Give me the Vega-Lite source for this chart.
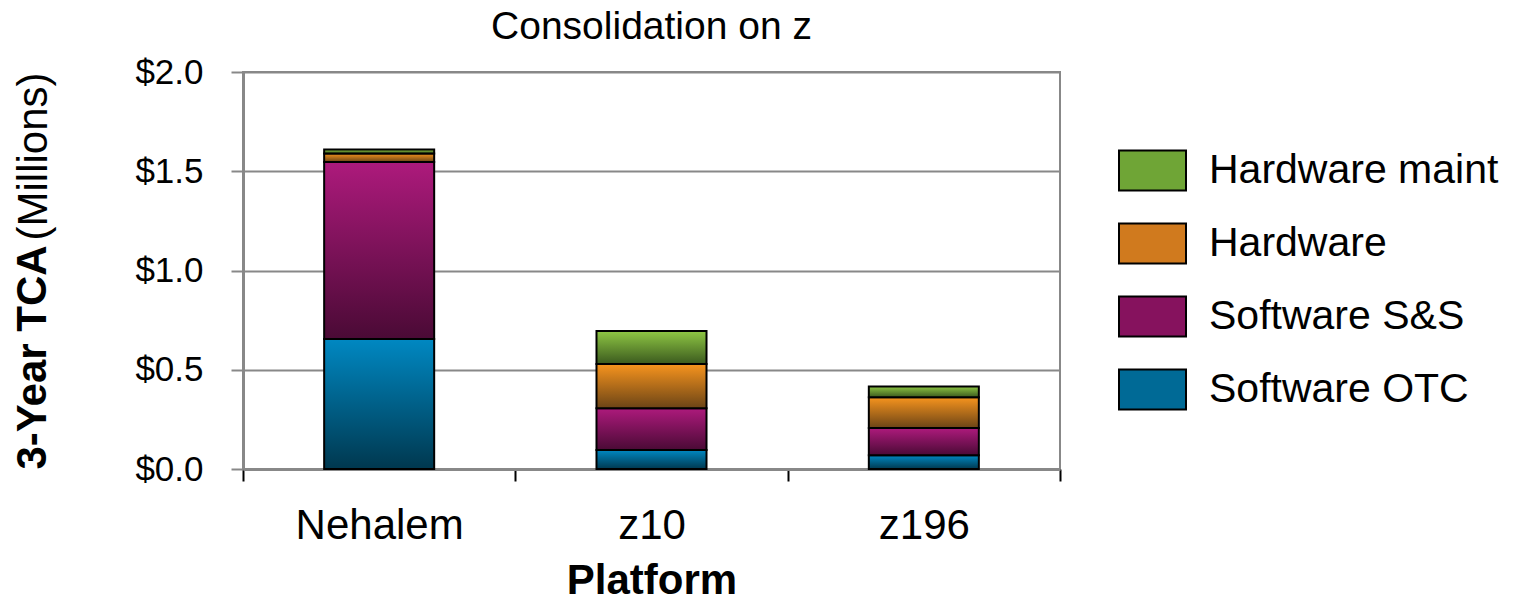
{
  "$schema": "https://vega.github.io/schema/vega-lite/v6.json",
  "autosize": {"type": "none"},
  "width": 817,
  "height": 397,
  "padding": {"left": 243, "top": 72, "right": 466, "bottom": 130},
  "config": {
    "font": "Liberation Sans",
    "view": {"stroke": "#888888", "strokeWidth": 2},
    "title": {"fontSize": 39, "fontWeight": "normal", "color": "#000000", "font": "Liberation Sans"}
  },
  "title": {"text": "Consolidation on z", "anchor": "middle", "offset": 8},
  "data": {
    "values": [
      {"platform": "Nehalem", "category": "Software OTC", "rank": 1, "value": 0.655},
      {"platform": "Nehalem", "category": "Software S&S", "rank": 2, "value": 0.892},
      {"platform": "Nehalem", "category": "Hardware", "rank": 3, "value": 0.043},
      {"platform": "Nehalem", "category": "Hardware maint", "rank": 4, "value": 0.020},
      {"platform": "z10", "category": "Software OTC", "rank": 1, "value": 0.096},
      {"platform": "z10", "category": "Software S&S", "rank": 2, "value": 0.210},
      {"platform": "z10", "category": "Hardware", "rank": 3, "value": 0.223},
      {"platform": "z10", "category": "Hardware maint", "rank": 4, "value": 0.166},
      {"platform": "z196", "category": "Software OTC", "rank": 1, "value": 0.069},
      {"platform": "z196", "category": "Software S&S", "rank": 2, "value": 0.137},
      {"platform": "z196", "category": "Hardware", "rank": 3, "value": 0.156},
      {"platform": "z196", "category": "Hardware maint", "rank": 4, "value": 0.054}
    ]
  },
  "encoding": {
    "x": {
      "field": "platform",
      "type": "nominal",
      "sort": ["Nehalem", "z10", "z196"],
      "scale": {"paddingInner": 0, "paddingOuter": 0},
      "axis": {
        "title": "Platform",
        "titleFontSize": 42,
        "titleFontWeight": "bold",
        "titleColor": "#000000",
        "titlePadding": 14,
        "labelAngle": 0,
        "labelFontSize": 42,
        "labelColor": "#000000",
        "labelPadding": 24,
        "tickBand": "extent",
        "tickSize": 12,
        "tickColor": "#000000",
        "tickWidth": 2,
        "domainColor": "#888888",
        "domainWidth": 3
      }
    }
  },
  "layer": [
    {
      "mark": {"type": "bar", "stroke": "#000000", "strokeWidth": 2, "opacity": 1, "width": {"band": 0.404}},
      "encoding": {
        "y": {
          "field": "value",
          "type": "quantitative",
          "aggregate": "sum",
          "scale": {"domain": [0, 2]},
          "axis": {
            "title": "3-Year TCA",
            "titleAnchor": "start",
            "titleFontSize": 42,
            "titleFontWeight": "bold",
            "titleColor": "#000000",
            "titlePadding": 80,
            "values": [0, 0.5, 1, 1.5, 2],
            "format": "$.1f",
            "labelFontSize": 35,
            "labelColor": "#000000",
            "labelPadding": 28,
            "tickSize": 12,
            "tickColor": "#888888",
            "tickWidth": 2,
            "domainColor": "#888888",
            "domainWidth": 3,
            "grid": true,
            "gridColor": "#888888",
            "gridWidth": 2
          }
        },
        "color": {
          "field": "category",
          "type": "nominal",
          "scale": {
            "domain": ["Hardware maint", "Hardware", "Software S&S", "Software OTC"],
            "range": ["#6fa536", "#d07a1e", "#86125e", "#006a96"]
          },
          "condition": [
            {"test": "datum.category === 'Hardware maint'", "value": {"gradient": "linear", "x1": 0, "y1": 0, "x2": 0, "y2": 1, "stops": [{"offset": 0, "color": "#8fc744"}, {"offset": 1, "color": "#3b5a1e"}]}},
            {"test": "datum.category === 'Hardware'", "value": {"gradient": "linear", "x1": 0, "y1": 0, "x2": 0, "y2": 1, "stops": [{"offset": 0, "color": "#f7941e"}, {"offset": 1, "color": "#6b4416"}]}},
            {"test": "datum.category === 'Software S&S'", "value": {"gradient": "linear", "x1": 0, "y1": 0, "x2": 0, "y2": 1, "stops": [{"offset": 0, "color": "#ad1a7c"}, {"offset": 1, "color": "#4a0a35"}]}},
            {"test": "datum.category === 'Software OTC'", "value": {"gradient": "linear", "x1": 0, "y1": 0, "x2": 0, "y2": 1, "stops": [{"offset": 0, "color": "#0088c2"}, {"offset": 1, "color": "#00384f"}]}}
          ],
          "legend": {
            "title": null,
            "orient": "none",
            "legendX": 875,
            "legendY": 64,
            "padding": 0,
            "symbolType": "M-1,-0.6H1V0.6H-1Z",
            "symbolSize": 4489,
            "symbolStrokeColor": "#000000",
            "symbolStrokeWidth": 2,
            "symbolOpacity": 1,
            "symbolFillColor": "#888888",
            "labelFontSize": 41,
            "labelColor": "#000000",
            "labelOffset": 22,
            "labelLimit": 400,
            "rowPadding": 14,
            "symbolLimit": 10
          }
        },
        "order": {"field": "rank", "type": "quantitative", "sort": "ascending"}
      }
    },
    {
      "mark": {"type": "bar", "opacity": 0},
      "encoding": {
        "y": {
          "field": "value",
          "type": "quantitative",
          "aggregate": "sum",
          "scale": {"domain": [0, 2]},
          "axis": {
            "orient": "left",
            "title": "(Millions)",
            "titleAnchor": "end",
            "titleFontSize": 42,
            "titleFontWeight": "normal",
            "titleColor": "#000000",
            "titlePadding": 188,
            "labels": false,
            "ticks": false,
            "domain": false,
            "grid": false
          }
        }
      }
    }
  ],
  "resolve": {"scale": {"y": "independent"}, "axis": {"y": "independent"}}
}
